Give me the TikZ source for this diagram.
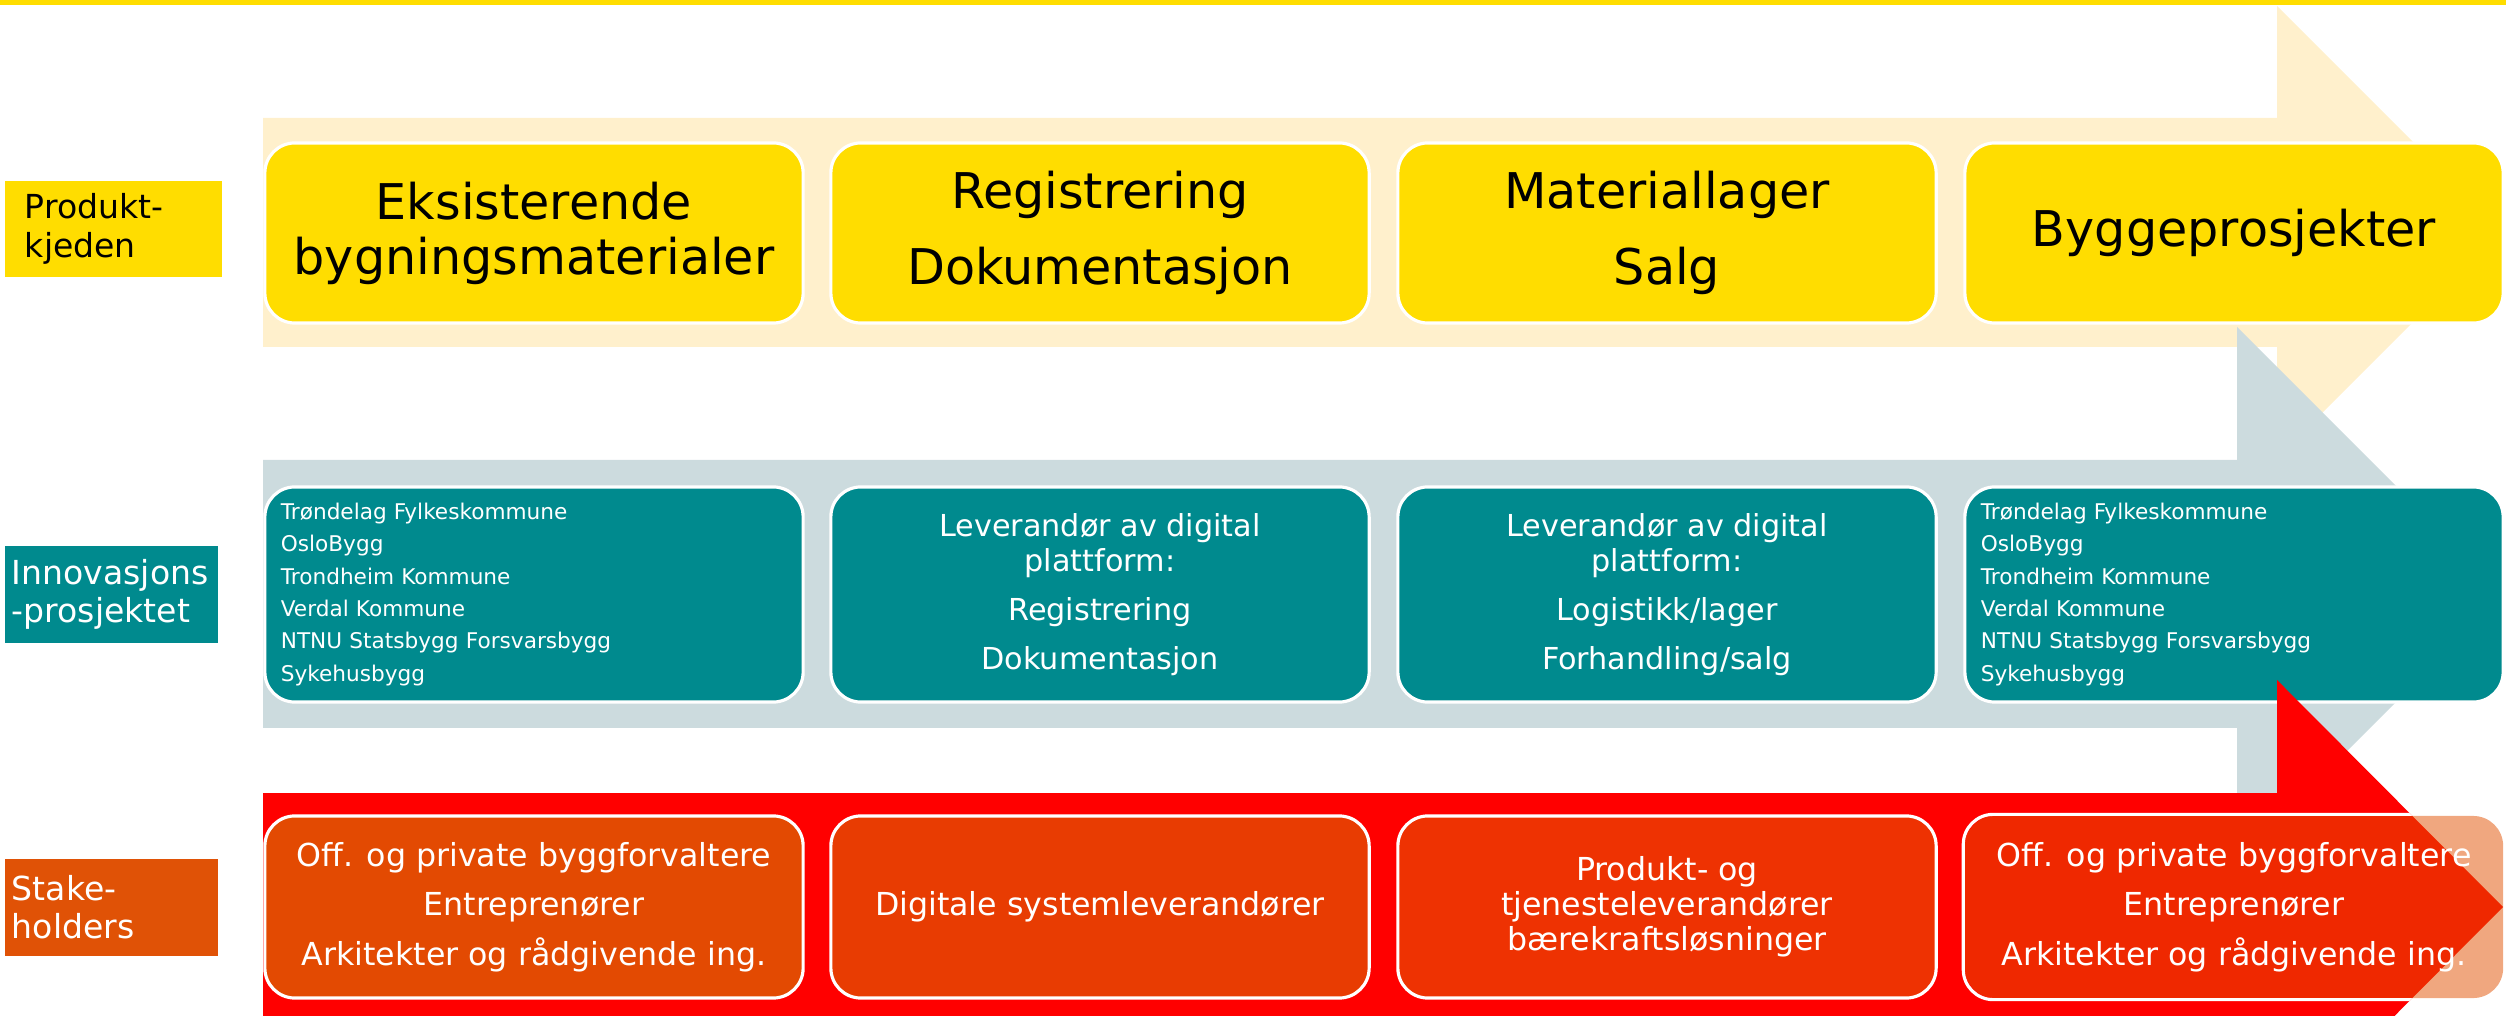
\documentclass[tikz,border=0pt]{standalone}
\usepackage{fontspec}
\setmainfont{DejaVu Sans}
\definecolor{ylw}{HTML}{FFDD00}
\definecolor{ylwlight}{HTML}{FFF0CC}
\definecolor{tealc}{HTML}{008A8E}
\definecolor{greyc}{HTML}{CCDBDE}
\definecolor{redc}{HTML}{FF0000}
\definecolor{orlabel}{HTML}{E05206}
\definecolor{orA}{HTML}{E34A02}
\definecolor{orB}{HTML}{E83C02}
\definecolor{orC}{HTML}{EE3202}
\definecolor{orD}{RGB}{225,80,0}
\begin{document}
\begin{tikzpicture}[x=0.01cm,y=-0.01cm,
  card/.style={draw=white, line width=0.9pt, rounded corners=0.3cm, minimum width=5.38cm, inner sep=0pt},
  ycard/.style={card, fill=ylw, minimum height=1.8cm, text=black, align=center},
  tcard/.style={card, fill=tealc, minimum height=2.15cm, text=white},
  tlist/.style={tcard, text width=5.06cm, align=left, font=\fontsize{6.15pt}{9.2pt}\selectfont},
  tmid/.style={tcard, align=center, font=\fontsize{8.6pt}{10pt}\selectfont},
  rcard/.style={card, minimum height=1.82cm, text=white, align=center},
  lab/.style={inner sep=0pt, minimum height=0.96cm, align=left, font=\fontsize{9.4pt}{10.9pt}\selectfont}
]
\useasboundingbox (0,0) rectangle (2506,1016);
\clip (0,0) rectangle (2506,1016);
% top line
\fill[ylw] (0,0) rectangle (2506,5.5);
% yellow arrow
\fill[ylwlight] (263,118) -- (2277,118) -- (2277,6) -- (2503,232) -- (2277,458) -- (2277,347) -- (263,347) -- cycle;
% left labels
\node[lab, fill=ylw, text=black, minimum width=2.17cm, text width=1.77cm] (lp) at (113.5,229) {Produkt-\\kjeden};
% yellow boxes
\node[ycard, font=\fontsize{14pt}{15.6pt}\selectfont] (p1) at (534,233) {Eksisterende\\bygningsmaterialer};
\node[ycard, font=\fontsize{14pt}{21.6pt}\selectfont] (p2) at (1100,233) {Registrering\\Dokumentasjon};
\node[ycard, font=\fontsize{14pt}{21.6pt}\selectfont] (p3) at (1667,233) {Materiallager\\Salg};
\node[ycard, font=\fontsize{14pt}{15.6pt}\selectfont] (p4) at (2234,233) {Byggeprosjekter};
% grey arrow
\fill[greyc] (263,460) -- (2237,460) -- (2237,327) -- (2504,594) -- (2237,861) -- (2237,728) -- (263,728) -- cycle;
\node[lab, fill=tealc, text=white, minimum width=2.13cm, text width=1.99cm] (li) at (111.5,594.5) {Innovasjons\\-prosjektet};
% teal boxes
\node[tlist] (i1) at (534,594.5) {Trøndelag Fylkeskommune\\OsloBygg\\Trondheim Kommune\\Verdal Kommune\\NTNU Statsbygg Forsvarsbygg\\Sykehusbygg};
\node[tmid] (i2) at (1100,594.5) {Leverandør av digital\\plattform:\\[4pt]Registrering\\[4pt]Dokumentasjon};
\node[tmid] (i3) at (1667,594.5) {Leverandør av digital\\plattform:\\[4pt]Logistikk/lager\\[4pt]Forhandling/salg};
\node[tlist] (i4) at (2234,594.5) {Trøndelag Fylkeskommune\\OsloBygg\\Trondheim Kommune\\Verdal Kommune\\NTNU Statsbygg Forsvarsbygg\\Sykehusbygg};
% red arrow
\fill[redc] (263,793) -- (2277,793) -- (2277,680) -- (2503,907) -- (2277,1134) -- (2277,1021) -- (263,1021) -- cycle;
\node[lab, fill=orlabel, text=white, minimum width=2.13cm, text width=1.99cm] (ls) at (111.5,907.5) {Stake-\\holders};
% red boxes
\node[rcard, fill=orA, font=\fontsize{9pt}{14.1pt}\selectfont] (s1) at (534,907) {Off. og private byggforvaltere\\Entreprenører\\Arkitekter og rådgivende ing.};
\node[rcard, fill=orB, font=\fontsize{9pt}{10pt}\selectfont] (s2) at (1100,907) {Digitale systemleverandører};
\node[rcard, fill=orC, font=\fontsize{9pt}{10pt}\selectfont] (s3) at (1667,907) {Produkt- og\\tjenesteleverandører\\bærekraftsløsninger};
\node[rcard, draw=none, fill=orD, fill opacity=0.5, text opacity=1, font=\fontsize{9pt}{14.1pt}\selectfont] (s4) at (2234,907) {Off. og private byggforvaltere\\Entreprenører\\Arkitekter og rådgivende ing.};
\begin{scope}
\clip (263,793) -- (2277,793) -- (2277,680) -- (2503,907) -- (2277,1134) -- (2277,1021) -- (263,1021) -- cycle;
\draw[white, line width=0.9pt, rounded corners=0.3cm] (s4.north west) rectangle (s4.south east);
\end{scope}
\end{tikzpicture}
\end{document}
